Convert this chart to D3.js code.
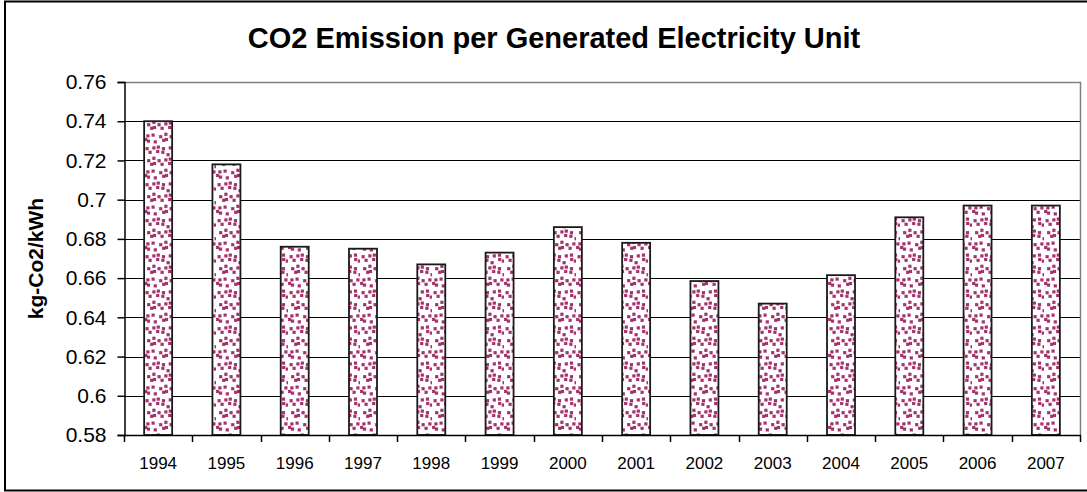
<!DOCTYPE html>
<html>
<head>
<meta charset="utf-8">
<script src="https://cdn.jsdelivr.net/npm/d3@7"></script>
<style>
  html, body { margin: 0; padding: 0; background: #fff; }
  svg { display: block; font-family: Arial, "Liberation Sans", sans-serif; }
</style>
</head>
<body>
<svg id="chart" width="1087" height="492"></svg>
<script>
// Emission factor per generated kWh, by year
const years = ["1994", "1995", "1996", "1997", "1998", "1999", "2000",
               "2001", "2002", "2003", "2004", "2005", "2006", "2007"];
const emission = [0.740, 0.718, 0.676, 0.675, 0.667, 0.673, 0.686,
                  0.678, 0.6585, 0.647, 0.6615, 0.691, 0.697, 0.697];
const yTicks = [0.58, 0.6, 0.62, 0.64, 0.66, 0.68, 0.7, 0.72, 0.74, 0.76];
const yTickLabels = ["0.58", "0.6", "0.62", "0.64", "0.66", "0.68", "0.7", "0.72", "0.74", "0.76"];

const titleText = "CO2 Emission per Generated Electricity Unit";
const yTitle = "kg-Co2/kWh";

const svg = d3.select("#chart");
const W = 1087, H = 492;
const plot = { left: 124, right: 1080, top: 82, bottom: 435 };

// Chart frame (right edge runs past the canvas)
svg.append("rect")
  .attr("x", 5).attr("y", 1.5)
  .attr("width", W + 10).attr("height", 489)
  .attr("fill", "#fff").attr("stroke", "#000").attr("stroke-width", 2);

// Confetti fill for the bars: a staggered grid of small squares with
// fixed offsets so the tile does not read as stripes
const TILE = 36, STEP = 6;
const defs = svg.append("defs");
const pat = defs.append("pattern")
  .attr("id", "confetti")
  .attr("patternUnits", "userSpaceOnUse")
  .attr("width", TILE).attr("height", TILE);
pat.append("rect").attr("width", TILE).attr("height", TILE).attr("fill", "#fff");
const jitter = [0, 2, -1, 1, -2, 2, -1, 0, 1, -2, 2, 0, -1, 1, 2, -2, 0, 1, -1, 2];
const dots = [];
for (let r = 0; r < TILE / STEP; r++) {
  for (let c = 0; c < TILE / STEP; c++) {
    const k = r * 7 + c * 3;
    const jx = jitter[k % jitter.length] * 0.8;
    const jy = jitter[(k + 5) % jitter.length] * 0.8;
    dots.push([c * STEP + (r % 2) * 3 + 1.5 + jx, r * STEP + 1.5 + jy]);
  }
}
pat.selectAll("rect.d").data(dots).join("rect")
  .attr("class", "d")
  .attr("x", d => ((d[0] % TILE) + TILE) % TILE)
  .attr("y", d => ((d[1] % TILE) + TILE) % TILE)
  .attr("width", 3.2).attr("height", 3.2)
  .attr("fill", "#a5326e");

const x = d3.scaleBand()
  .domain(years)
  .range([plot.left, plot.right])
  .paddingInner(0.59)
  .paddingOuter(0.295);

const y = d3.scaleLinear()
  .domain([0.58, 0.76])
  .range([plot.bottom, plot.top]);

// Horizontal gridlines
svg.append("g")
  .selectAll("line")
  .data(yTicks.filter(t => t > 0.58 && t < 0.76))
  .join("line")
  .attr("x1", plot.left).attr("x2", plot.right)
  .attr("y1", d => Math.round(y(d)) + 0.5).attr("y2", d => Math.round(y(d)) + 0.5)
  .attr("stroke", "#000").attr("stroke-width", 1);

// Plot area border (top and right)
svg.append("path")
  .attr("d", `M${plot.left},${plot.top + 0.5}H${plot.right + 0.5}V${plot.bottom}`)
  .attr("fill", "none").attr("stroke", "#808080").attr("stroke-width", 1.5);

// Bars
svg.append("g")
  .selectAll("rect")
  .data(emission)
  .join("rect")
  .attr("x", (d, i) => x(years[i]))
  .attr("y", d => y(d))
  .attr("width", x.bandwidth())
  .attr("height", d => y(0.58) - y(d))
  .attr("fill", "url(#confetti)")
  .attr("stroke", "#1a1a1a").attr("stroke-width", 1.8);

// Y axis
const yAxis = d3.axisLeft(y)
  .tickValues(yTicks)
  .tickFormat((d, i) => yTickLabels[i])
  .tickSize(7).tickPadding(11);
const gy = svg.append("g")
  .attr("transform", `translate(${plot.left + 0.5},0)`)
  .call(yAxis);
gy.select(".domain").attr("stroke", "#000").attr("stroke-width", 1.5);
gy.selectAll(".tick line").attr("stroke", "#000").attr("stroke-width", 1.5);
gy.selectAll(".tick text")
  .attr("font-size", 21).attr("fill", "#000")
  .attr("font-family", "Arial, 'Liberation Sans', sans-serif");

// X axis: ticks sit on the category boundaries
const step = x.step();
const boundaries = d3.range(years.length + 1).map(i => plot.left + i * step);
const gx = svg.append("g");
gx.append("line")
  .attr("x1", plot.left).attr("x2", plot.right + 1)
  .attr("y1", plot.bottom + 0.5).attr("y2", plot.bottom + 0.5)
  .attr("stroke", "#000").attr("stroke-width", 1.5);
gx.selectAll("line.tk").data(boundaries).join("line")
  .attr("class", "tk")
  .attr("x1", d => Math.round(d) + 0.5).attr("x2", d => Math.round(d) + 0.5)
  .attr("y1", plot.bottom).attr("y2", plot.bottom + 7)
  .attr("stroke", "#000").attr("stroke-width", 1.5);
gx.selectAll("text").data(years).join("text")
  .attr("x", d => x(d) + x.bandwidth() / 2)
  .attr("y", 469)
  .attr("text-anchor", "middle")
  .attr("font-size", 17)
  .attr("fill", "#000")
  .text(d => d);

// Axis title
svg.append("text")
  .attr("transform", `translate(43,${(plot.top + plot.bottom) / 2}) rotate(-90)`)
  .attr("text-anchor", "middle")
  .attr("font-size", 21).attr("font-weight", "bold")
  .attr("fill", "#000")
  .text(yTitle);

// Chart title
svg.append("text")
  .attr("x", 554).attr("y", 48)
  .attr("text-anchor", "middle")
  .attr("font-size", 29).attr("font-weight", "bold")
  .attr("fill", "#000")
  .text(titleText);
</script>
</body>
</html>
